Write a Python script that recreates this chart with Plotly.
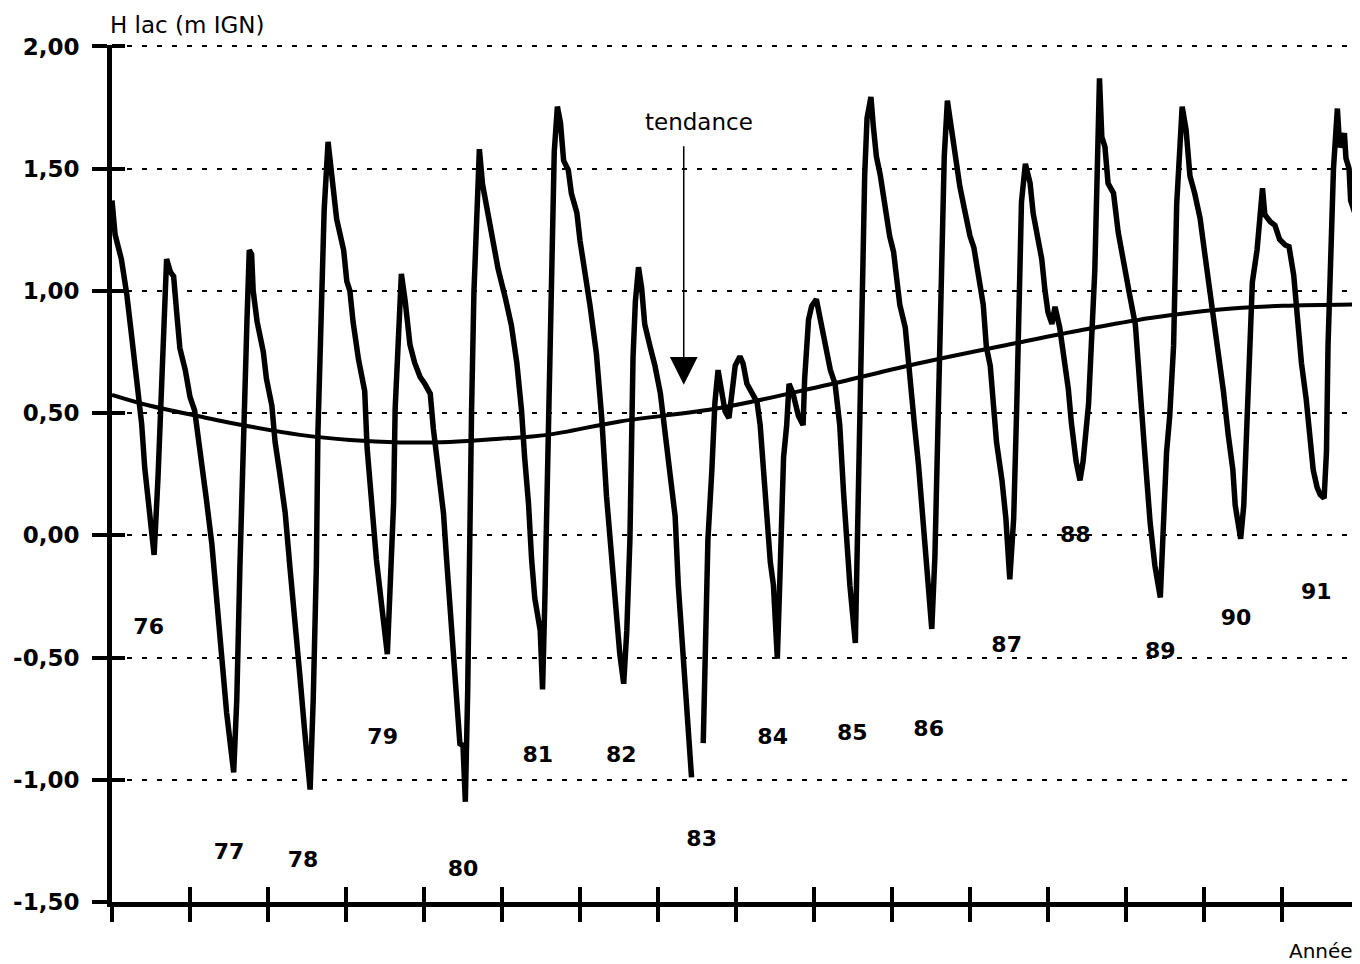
import plotly.graph_objects as go

# --- Lake level (m IGN) ---
t_level = [
    1976.00, 1976.04, 1976.12, 1976.19, 1976.25, 1976.32, 1976.38, 1976.42, 1976.49, 1976.54,
    1976.59, 1976.64, 1976.67, 1976.70, 1976.75, 1976.79, 1976.83, 1976.87, 1976.94, 1977.00,
    1977.06, 1977.13, 1977.21, 1977.28, 1977.34, 1977.41, 1977.47, 1977.56, 1977.60, 1977.64,
    1977.68, 1977.73, 1977.76, 1977.79, 1977.81, 1977.86, 1977.94, 1977.98, 1978.05, 1978.09,
    1978.15, 1978.22, 1978.28, 1978.35, 1978.41, 1978.47, 1978.54, 1978.58, 1978.62, 1978.64,
    1978.68, 1978.72, 1978.77, 1978.82, 1978.88, 1978.97, 1979.01, 1979.05, 1979.09, 1979.16,
    1979.24, 1979.27, 1979.33, 1979.39, 1979.46, 1979.53, 1979.56, 1979.61, 1979.63, 1979.67,
    1979.71, 1979.76, 1979.82, 1979.88, 1979.95, 1980.01, 1980.08, 1980.12, 1980.18, 1980.25,
    1980.29, 1980.33, 1980.38, 1980.42, 1980.46, 1980.50, 1980.53, 1980.56, 1980.58, 1980.61,
    1980.64, 1980.68, 1980.71, 1980.75, 1980.82, 1980.89, 1980.95, 1981.04, 1981.12, 1981.19,
    1981.25, 1981.29, 1981.34, 1981.38, 1981.42, 1981.49, 1981.52, 1981.55, 1981.58, 1981.61,
    1981.64, 1981.67, 1981.71, 1981.75, 1981.79, 1981.85, 1981.89, 1981.96, 1982.00, 1982.06,
    1982.13, 1982.21, 1982.28, 1982.34, 1982.41, 1982.47, 1982.51, 1982.56, 1982.60, 1982.64,
    1982.66, 1982.68, 1982.71, 1982.75, 1982.79, 1982.83, 1982.90, 1982.96, 1983.03, 1983.09,
    1983.15, 1983.22, 1983.26, 1983.32, 1983.38, 1983.43, 1983.50, 1983.58, 1983.62, 1983.64,
    1983.69, 1983.73, 1983.77, 1983.82, 1983.86, 1983.91, 1983.94, 1983.99, 1984.05, 1984.09,
    1984.14, 1984.20, 1984.27, 1984.31, 1984.35, 1984.39, 1984.44, 1984.48, 1984.53, 1984.56,
    1984.59, 1984.61, 1984.65, 1984.68, 1984.73, 1984.80, 1984.86, 1984.88, 1984.93, 1984.97,
    1985.03, 1985.08, 1985.14, 1985.21, 1985.27, 1985.33, 1985.38, 1985.42, 1985.46, 1985.53,
    1985.56, 1985.58, 1985.61, 1985.65, 1985.68, 1985.73, 1985.76, 1985.80, 1985.85, 1985.91,
    1985.97, 1986.02, 1986.06, 1986.10, 1986.17, 1986.21, 1986.25, 1986.29, 1986.34, 1986.38,
    1986.42, 1986.47, 1986.51, 1986.55, 1986.58, 1986.61, 1986.64, 1986.67, 1986.71, 1986.75,
    1986.81, 1986.87, 1986.94, 1987.00, 1987.05, 1987.11, 1987.17, 1987.21, 1987.26, 1987.30,
    1987.34, 1987.41, 1987.46, 1987.51, 1987.56, 1987.60, 1987.63, 1987.66, 1987.71, 1987.77,
    1987.81, 1987.88, 1987.92, 1987.96, 1988.00, 1988.05, 1988.09, 1988.15, 1988.22, 1988.26,
    1988.30, 1988.36, 1988.41, 1988.45, 1988.52, 1988.56, 1988.60, 1988.63, 1988.66, 1988.69,
    1988.73, 1988.77, 1988.84, 1988.90, 1988.97, 1989.05, 1989.12, 1989.18, 1989.24, 1989.31,
    1989.37, 1989.44, 1989.48, 1989.52, 1989.56, 1989.61, 1989.65, 1989.69, 1989.72, 1989.77,
    1989.82, 1989.88, 1989.95, 1990.01, 1990.08, 1990.14, 1990.21, 1990.25, 1990.31, 1990.37,
    1990.40, 1990.47, 1990.51, 1990.55, 1990.59, 1990.62, 1990.68, 1990.71, 1990.75, 1990.78,
    1990.85, 1990.91, 1990.97, 1991.04, 1991.09, 1991.15, 1991.21, 1991.25, 1991.31, 1991.36,
    1991.40, 1991.45, 1991.49, 1991.54, 1991.57, 1991.59, 1991.62, 1991.66, 1991.71, 1991.74,
    1991.80, 1991.82, 1991.86, 1991.88, 1991.94, 1991.97,
]
h_level = [
    1.37, 1.23, 1.13, 0.985, 0.82, 0.62, 0.457, 0.275, 0.093, -0.08,
    0.238, 0.675, 0.93, 1.13, 1.076, 1.06, 0.91, 0.766, 0.675, 0.566,
    0.51, 0.35, 0.147, -0.035, -0.253, -0.49, -0.727, -0.97, -0.67, -0.126,
    0.42, 0.875, 1.167, 1.15, 1.00, 0.875, 0.75, 0.64, 0.53, 0.384,
    0.256, 0.093, -0.126, -0.344, -0.58, -0.80, -1.04, -0.67, -0.126, 0.42,
    0.875, 1.33, 1.61, 1.476, 1.294, 1.167, 1.04, 1.00, 0.875, 0.72,
    0.59, 0.36, 0.129, -0.10, -0.294, -0.486, -0.256, 0.129, 0.515, 0.80,
    1.07, 0.955, 0.78, 0.706, 0.648, 0.62, 0.58, 0.436, 0.263, 0.09,
    -0.10, -0.294, -0.506, -0.698, -0.852, -0.86, -1.09, -0.64, -0.063, 0.513,
    0.994, 1.38, 1.58, 1.437, 1.32, 1.206, 1.09, 0.975, 0.86, 0.706,
    0.513, 0.32, 0.129, -0.10, -0.256, -0.39, -0.63, -0.256, 0.225, 0.706,
    1.186, 1.57, 1.754, 1.687, 1.533, 1.494, 1.398, 1.32, 1.206, 1.09,
    0.937, 0.744, 0.475, 0.16, -0.09, -0.354, -0.485, -0.607, -0.39, -0.017,
    0.358, 0.73, 0.957, 1.097, 1.013, 0.863, 0.77, 0.695, 0.582, 0.433,
    0.264, 0.077, -0.204, -0.485, -0.766, -0.99, None, -0.85, -0.39, -0.017,
    0.264, 0.545, 0.676, 0.582, 0.507, 0.48, 0.582, 0.695, 0.732, 0.704,
    0.62, 0.582, 0.545, 0.451, 0.264, 0.077, -0.11, -0.204, -0.504, -0.204,
    0.17, 0.32, 0.451, 0.62, 0.582, 0.489, 0.451, 0.64, 0.882, 0.938,
    0.966, 0.882, 0.807, 0.676, 0.62, 0.451, 0.17, -0.017, -0.204, -0.44,
    0.07, 0.537, 1.005, 1.473, 1.707, 1.793, 1.676, 1.55, 1.473, 1.35,
    1.224, 1.16, 1.037, 0.943, 0.85, 0.693, 0.569, 0.444, 0.288, 0.132,
    -0.024, -0.211, -0.383, -0.087, 0.303, 0.771, 1.24, 1.55, 1.778, 1.69,
    1.536, 1.427, 1.317, 1.224, 1.177, 1.068, 0.943, 0.77, 0.693, 0.537,
    0.381, 0.225, 0.069, -0.18, 0.069, 0.537, 1.005, 1.364, 1.52, 1.442,
    1.317, 1.208, 1.13, 1.005, 0.912, 0.865, 0.935, 0.85, 0.693, 0.60,
    0.46, 0.303, 0.225, 0.303, 0.537, 0.771, 1.083, 1.473, 1.87, 1.63,
    1.59, 1.44, 1.40, 1.24, 1.109, 0.978, 0.862, 0.63, 0.34, 0.05,
    -0.123, -0.254, 0.05, 0.34, 0.486, 0.775, 1.355, 1.645, 1.754, 1.66,
    1.47, 1.40, 1.297, 1.152, 0.993, 0.848, 0.703, 0.587, 0.413, 0.268,
    0.123, -0.014, 0.123, 0.486, 0.775, 1.036, 1.167, 1.268, 1.42, 1.312,
    1.283, 1.268, 1.21, 1.188, 1.181, 1.065, 0.848, 0.703, 0.558, 0.413,
    0.268, 0.196, 0.167, 0.152, 0.34, 0.775, 1.065, 1.50, 1.746, 1.587,
    1.645, 1.543, 1.50, 1.37, 1.312, 1.254,
]

# --- Trend ("tendance") ---
t_trend = [1976.00, 1976.49, 1977.13, 1977.77, 1978.41, 1979.05, 1979.69, 1980.33, 1980.97,
           1981.58, 1982.51, 1983.79, 1985.08, 1986.36, 1987.60, 1988.45, 1989.31, 1990.17,
           1991.01, 1992.00]
h_trend = [0.575, 0.530, 0.486, 0.445, 0.411, 0.390, 0.380, 0.382, 0.395,
           0.411, 0.466, 0.521, 0.609, 0.705, 0.787, 0.841, 0.889, 0.923,
           0.939, 0.945]

# --- Year labels placed in the chart ---
year_labels = ["76", "77", "78", "79", "80", "81", "82", "83", "84", "85",
               "86", "87", "88", "89", "90", "91"]
label_t = [1976.47, 1977.50, 1978.45, 1979.47, 1980.50, 1981.46, 1982.53, 1983.56,
           1984.47, 1985.49, 1986.47, 1987.47, 1988.35, 1989.44, 1990.41, 1991.44]
label_h = [-0.382, -1.302, -1.335, -0.832, -1.372, -0.906, -0.906, -1.25,
           -0.832, -0.816, -0.799, -0.456, -0.006, -0.480, -0.345, -0.239]

# --- Axes ---
ytick_vals = [-1.5, -1.0, -0.5, 0.0, 0.5, 1.0, 1.5, 2.0]
ytick_text = ["-1,50", "-1,00", "-0,50", "0,00", "0,50", "1,00", "1,50", "2,00"]
xtick_vals = [1976, 1977, 1978, 1979, 1980, 1981, 1982, 1983, 1984, 1985, 1986,
              1987, 1988, 1989, 1990, 1991]
y_range = [-1.5, 2.006]
x_range = [1976, 1992]

FONT = "DejaVu Sans"

fig = go.Figure()
fig.add_trace(go.Scatter(x=t_level, y=h_level, mode="lines", connectgaps=False,
                         line=dict(color="black", width=5.5), hoverinfo="skip"))
fig.add_trace(go.Scatter(x=t_trend, y=h_trend, mode="lines",
                         line=dict(color="black", width=4, shape="spline"), hoverinfo="skip"))
fig.add_trace(go.Scatter(x=label_t, y=label_h, mode="text", text=year_labels,
                         textposition="middle center",
                         textfont=dict(family=FONT, size=22, color="black", weight="bold"),
                         hoverinfo="skip"))
# empty trace so that the overlay axes (inner halves of the cross ticks) are drawn
fig.add_trace(go.Scatter(x=[None], y=[None], xaxis="x2", yaxis="y2", mode="lines",
                         hoverinfo="skip"))

fig.update_layout(
    width=1352, height=956, autosize=False,
    margin=dict(l=104, r=0, t=37, b=62),
    plot_bgcolor="white", paper_bgcolor="white",
    showlegend=False,
    xaxis=dict(range=x_range, tickmode="array", tickvals=xtick_vals,
               ticks="outside", ticklen=15, tickwidth=4, tickcolor="black",
               showticklabels=False, showgrid=False, zeroline=False,
               showline=True, linewidth=5, linecolor="black"),
    xaxis2=dict(range=x_range, overlaying="x", anchor="y2", side="bottom",
                tickmode="array", tickvals=xtick_vals,
                ticks="inside", ticklen=15, tickwidth=4, tickcolor="black",
                showticklabels=False, showgrid=False, zeroline=False, showline=False),
    yaxis=dict(range=y_range, tickmode="array", tickvals=ytick_vals, ticktext=ytick_text,
               ticks="outside", ticklen=15, tickwidth=4, tickcolor="black",
               tickfont=dict(family=FONT, size=23, color="black", weight="bold"),
               ticklabelstandoff=8,
               showgrid=True, gridcolor="black", gridwidth=1.5, griddash="5px,10px",
               zeroline=False, showline=True, linewidth=5, linecolor="black"),
    yaxis2=dict(range=y_range, overlaying="y", anchor="x2", side="left",
                tickmode="array", tickvals=ytick_vals,
                ticks="inside", ticklen=13, tickwidth=4, tickcolor="black",
                showticklabels=False, showgrid=False, zeroline=False, showline=False),
    annotations=[
        dict(text="H lac (m IGN)", xref="paper", yref="paper", x=-0.003, y=1.0234,
             xanchor="left", yanchor="middle", showarrow=False,
             font=dict(family=FONT, size=23, color="black")),
        dict(text="Année", xref="paper", yref="paper", x=0.9688, y=-0.0570,
             xanchor="center", yanchor="middle", showarrow=False,
             font=dict(family=FONT, size=20, color="black")),
        dict(text="tendance", xref="x", yref="y", x=1983.53, y=1.692,
             xanchor="center", yanchor="middle", showarrow=False,
             font=dict(family=FONT, size=23, color="black")),
        dict(text="", xref="x", yref="y", x=1983.33, y=0.616, ax=0, ay=-240,
             showarrow=True, arrowhead=2, arrowsize=3.7, arrowwidth=1.5,
             arrowcolor="black"),
    ],
)

fig.write_html("out.html")
